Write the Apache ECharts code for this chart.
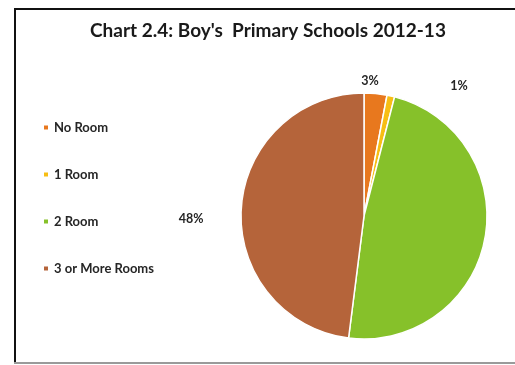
<!DOCTYPE html>
<html>
<head>
<meta charset="utf-8">
<script src="https://cdn.jsdelivr.net/npm/echarts@6/dist/echarts.min.js"></script>
<style>
html,body{margin:0;padding:0;background:#fff;}
#chart{width:515px;height:365px;}
</style>
</head>
<body>
<div id="chart"></div>
<script>
const titleText = "Chart 2.4: Boy's  Primary Schools 2012-13";
const categories = ['No Room', '1 Room', '2 Room', '3 or More Rooms'];
const values = [3, 1, 48, 48];
const colors = ['#E8781E', '#F7BE14', '#86C12A', '#B5643A'];
// manual label placement (polar offset from the pie centre), as in the source chart
const labelAngle = [2.5, 36.2, 126.5, 269];
const labelDist = [135, 161, 158, 173];
const cx = 364, cy = 216;

const chart = echarts.init(document.getElementById('chart'), null, {renderer: 'canvas'});
chart.setOption({
  animation: false,
  backgroundColor: '#fff',
  color: colors,
  title: {
    text: titleText,
    left: 90,
    top: 21,
    padding: 0,
    textStyle: {fontFamily: 'Lato', fontWeight: 'bold', fontSize: 19, color: '#1a1a1a'}
  },
  legend: {
    orient: 'vertical',
    left: 42,
    top: 121,
    padding: 0,
    itemWidth: 6,
    itemHeight: 6,
    itemGap: 34,
    icon: 'rect',
    data: categories,
    textStyle: {fontFamily: 'Lato', fontWeight: 'bold', fontSize: 13, color: '#262626', lineHeight: 13}
  },
  graphic: [
    {type: 'rect', shape: {x: 15, y: 9, width: 540, height: 354}, style: {fill: 'none', stroke: '#111', lineWidth: 2}, z: -1},
    {type: 'line', shape: {x1: 14, y1: 363, x2: 515, y2: 363}, style: {stroke: '#9a9a9a', lineWidth: 2}, z: 0}
  ],
  series: [{
    type: 'pie',
    center: [cx, cy],
    radius: 123,
    startAngle: 90,
    clockwise: true,
    percentPrecision: 0,
    itemStyle: {borderColor: '#fff', borderWidth: 1.5},
    label: {
      show: true,
      position: 'outside',
      formatter: '{d}%',
      fontFamily: 'Lato', fontWeight: 'bold', fontSize: 12.5, color: '#262626'
    },
    labelLine: {show: false},
    labelLayout: function (p) {
      const a = labelAngle[p.dataIndex] * Math.PI / 180;
      const d = labelDist[p.dataIndex];
      return {x: cx + d * Math.sin(a), y: cy - d * Math.cos(a), align: 'center', verticalAlign: 'middle'};
    },
    emphasis: {disabled: true},
    data: categories.map((c, i) => ({name: c, value: values[i]}))
  }]
});
</script>
</body>
</html>
